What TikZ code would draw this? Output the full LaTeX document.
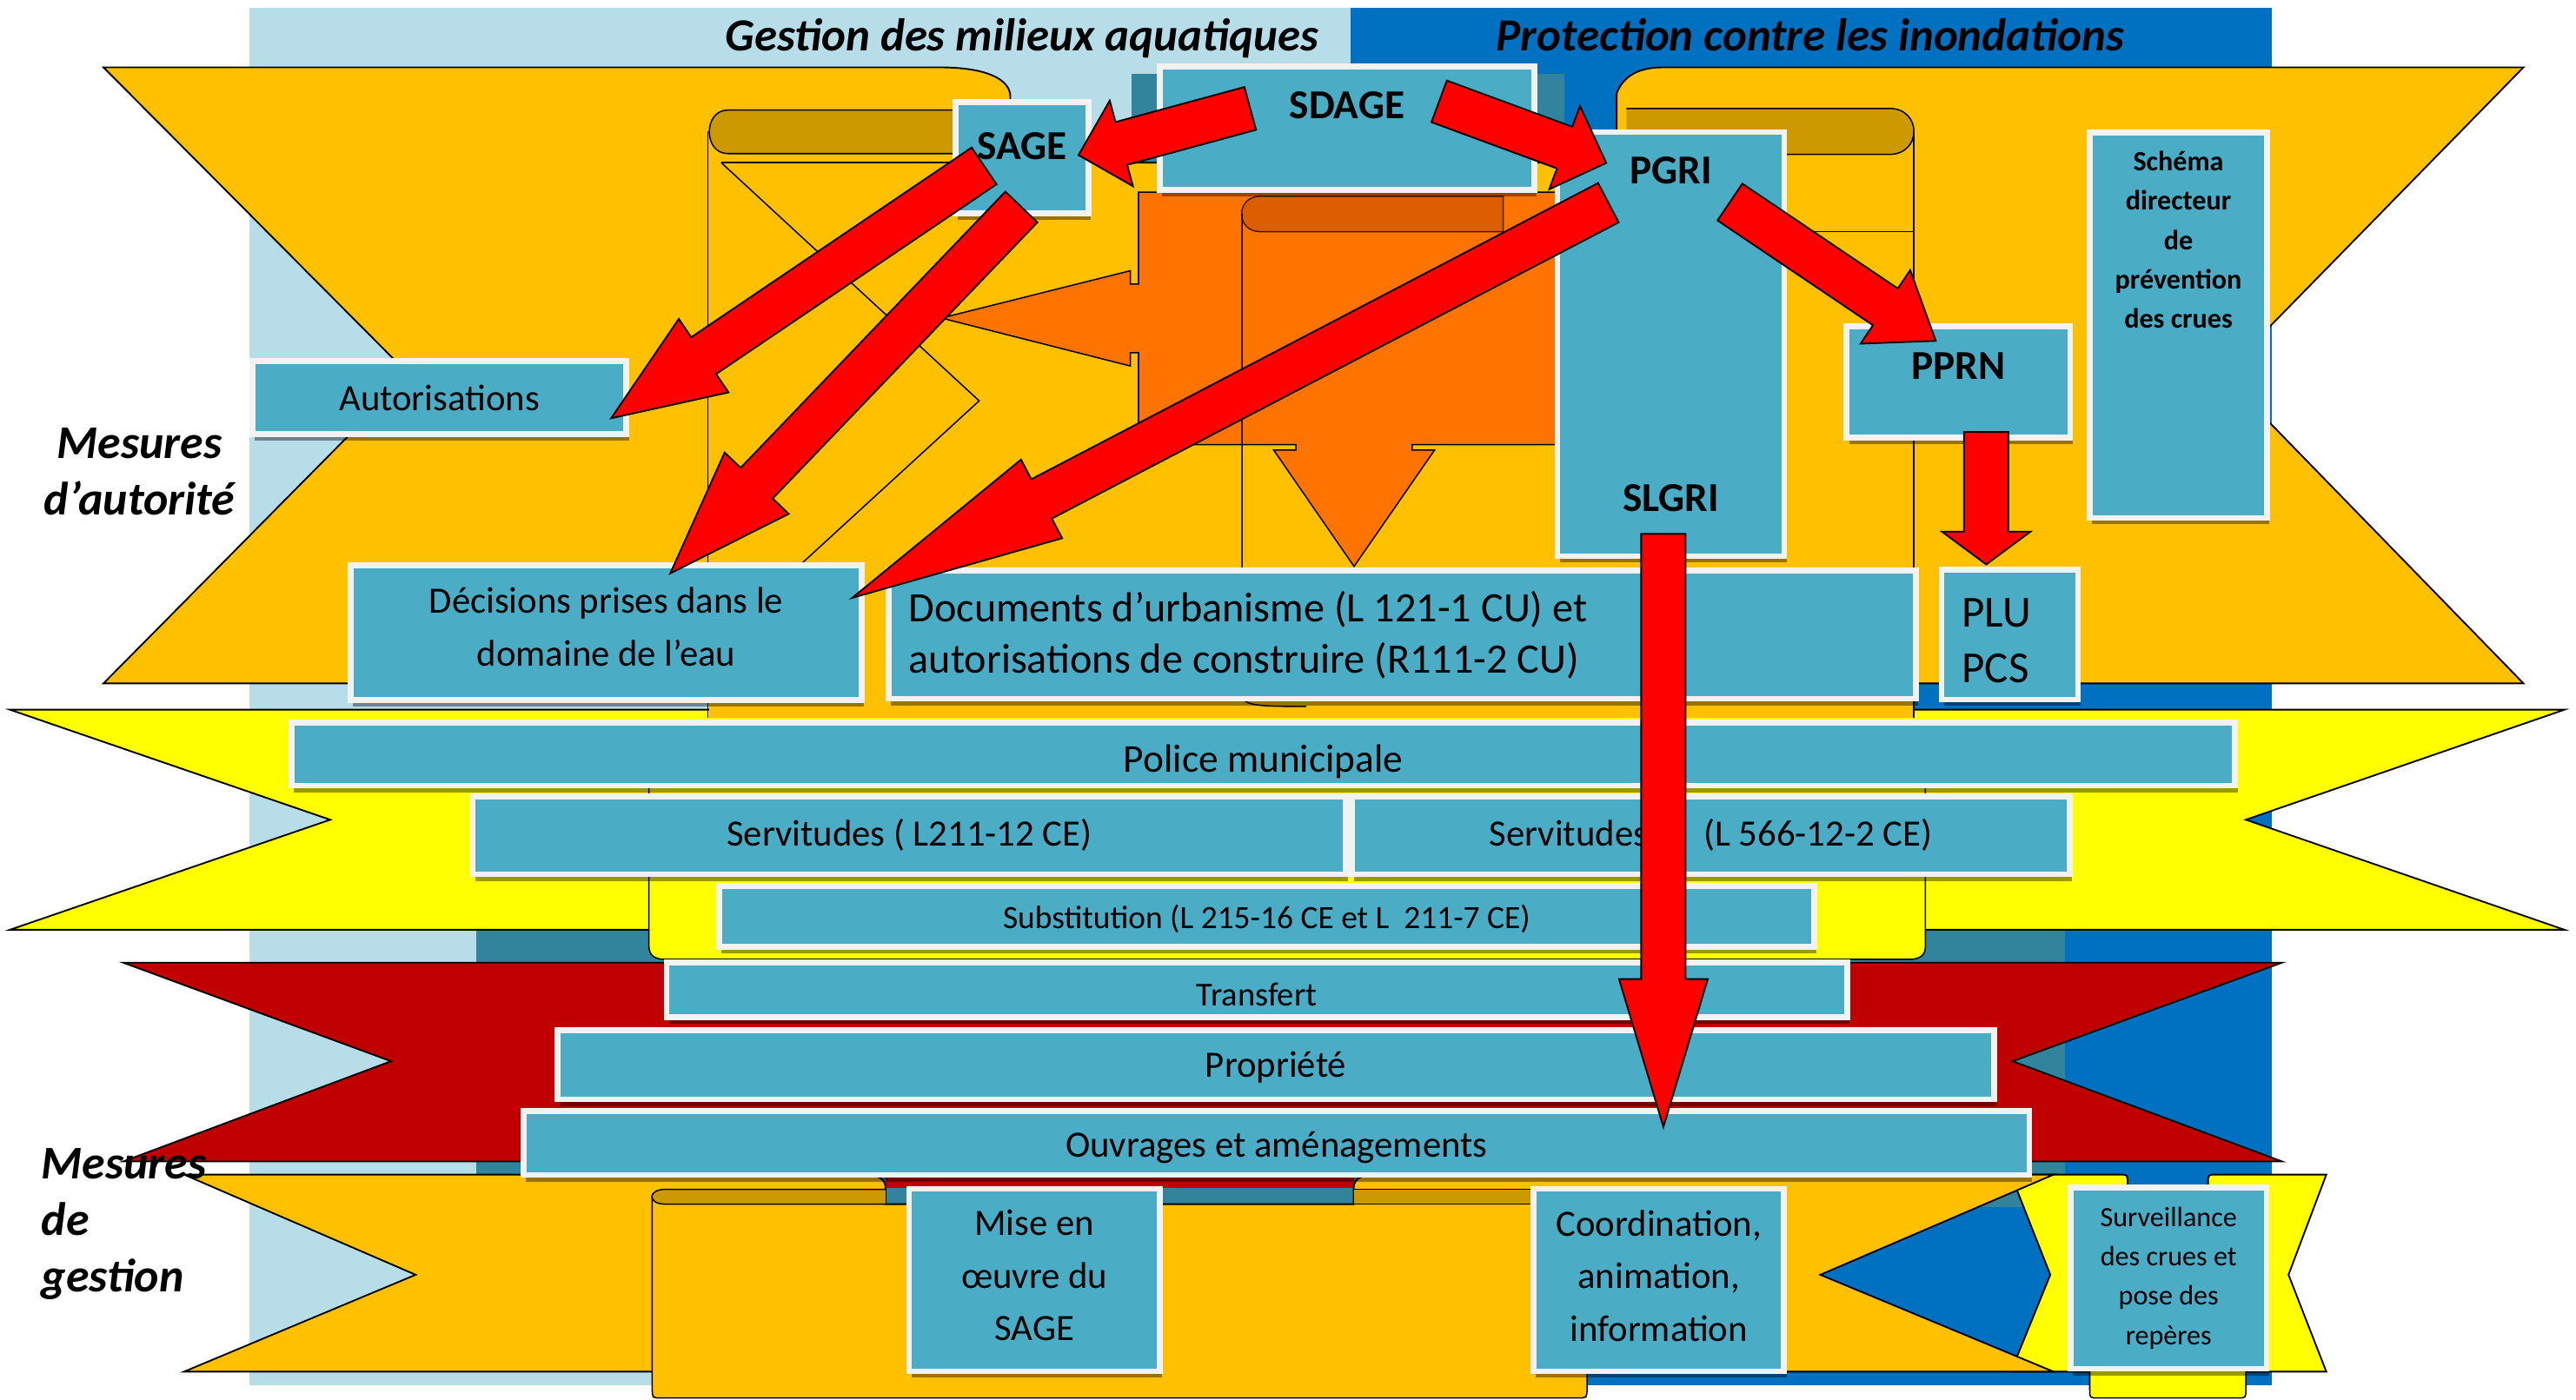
\documentclass[tikz,border=0pt]{standalone}
\usepackage{fontspec}
\setmainfont{Carlito}
\usetikzlibrary{calc,shadows}

\definecolor{bleuclair}{HTML}{B7DDE8}
\definecolor{bleufonce}{HTML}{0070C0}
\definecolor{sarcelle}{HTML}{31849B}
\definecolor{orsoleil}{HTML}{FFC000}
\definecolor{orsombre}{HTML}{CC9900}
\definecolor{jaunevif}{HTML}{FFFF00}
\definecolor{rougesang}{HTML}{C00000}
\definecolor{orangevif}{HTML}{FF7300}
\definecolor{orangesombre}{HTML}{DD5E00}
\definecolor{cyanboite}{HTML}{4BACC6}
\definecolor{bordboite}{HTML}{F2F2F2}

% grosse fleche rouge : depart, pointe, longueur de la tete
\newcommand{\flecherouge}[3]{%
  \filldraw[fleche] ($(#1)!13.5pt!90:(#2)$)
    -- ($(#2)!#3!(#1)!13.5pt!-90:(#1)$) -- ($(#2)!#3!(#1)!27pt!-90:(#1)$)
    -- (#2)
    -- ($(#2)!#3!(#1)!27pt!90:(#1)$) -- ($(#2)!#3!(#1)!13.5pt!90:(#1)$)
    -- ($(#1)!13.5pt!-90:(#2)$) -- cycle;}

\begin{document}
\begin{tikzpicture}[x=1pt,y=-1pt,
    trait/.style={draw=black,line width=0.8pt},
    bande/.style={draw=black,line width=1pt},
    boite/.style={draw=bordboite,line width=3.5pt,fill=cyanboite,inner sep=0pt,
      align=center,font=\fontsize{22.6}{32}\selectfont,
      drop shadow={shadow xshift=1.5pt,shadow yshift=-4pt,opacity=.4,fill=black}},
    ligne/.style={text depth=0pt,text height=#1},
    texte/.style={inner sep=0pt,align=center,font=\fontsize{22.6}{32}\selectfont},
    gras/.style={inner sep=0pt,font=\bfseries\fontsize{25}{30}\selectfont},
    titre/.style={inner sep=0pt,font=\bfseries\itshape\fontsize{28}{30}\selectfont},
    mesure/.style={inner sep=0pt,align=center,font=\bfseries\itshape\fontsize{28.5}{34.5}\selectfont},
    fleche/.style={fill=red,draw=black,line width=1pt}]

  \useasboundingbox (0,0) rectangle (1568,852);

  % fonds
  \fill[bleuclair] (152,5) rectangle (822,843);
  \fill[bleufonce] (822,5) rectangle (1383,843);
  \node[titre,anchor=base] (gestion) at (622,31) {Gestion des milieux aquatiques};
  \node[titre,anchor=base] (protection) at (1102,31) {Protection contre les inondations};
  \fill[sarcelle] (689,45) rectangle (952,117);
  \fill[sarcelle] (290,440) rectangle (1257,735);

  % bandeaux
  \filldraw[fill=jaunevif,bande] (1224,715) -- (1290,715) .. controls (1295,715) .. (1295,720)
    -- (1295,726) -- (1344,726) -- (1344,720) .. controls (1344,715) .. (1349,715)
    -- (1416,715) -- (1393,776) -- (1416,835) -- (1224,835) -- (1248,776) -- cycle;
  \filldraw[fill=orsoleil,bande] (63,41) -- (572,41) .. controls (600,41) and (615,48) .. (615,59)
    -- (615,99) -- (984,99) -- (984,57) .. controls (988,46) and (998,41) .. (1012,41)
    -- (1536,41) -- (1353,228) -- (1536,416) -- (63,416) -- (249,228) -- cycle;
  \filldraw[fill=jaunevif,bande] (6,432) -- (1561,432) -- (1367,499) -- (1561,566)
    -- (6,566) -- (201,499) -- cycle;
  \filldraw[fill=rougesang,bande] (75,586) -- (1389,586) -- (1225,646) -- (1389,707)
    -- (75,707) -- (238,646) -- cycle;
  \fill[rougesang] (539,707) rectangle (824,723);
  \filldraw[fill=orsoleil,bande] (112,715) -- (525,715) .. controls (535,715) and (539,718) .. (539,723)
    -- (539,733) -- (824,733) -- (824,723) .. controls (824,718) and (828,715) .. (838,715)
    -- (1250,715) -- (1108,776) -- (1250,835) -- (112,835) -- (253,776) -- cycle;

  % rouleaux du haut
  \fill[orsoleil] (431.5,405) rectangle (1164.5,437);
  \filldraw[fill=orsombre,trait] (580,67) -- (443,67) .. controls (428,67) and (428,93.5) .. (443,93.5) -- (580,93.5);
  \draw[trait] (431,80) -- (431,437);
  \draw[trait] (439,99) -- (615,99);
  \draw[trait] (439,99) -- (596,244) -- (488,343);
  \filldraw[fill=orsombre,trait] (990,66) -- (1150,66) .. controls (1170,66) and (1170,94) .. (1150,94) -- (990,94);
  \draw[trait] (1165,80) -- (1165,437);
  \draw[trait] (1088,141) -- (1165,141);

  % fleche orange
  \filldraw[fill=orangevif,trait] (693,117) -- (947,117) -- (947,270.6) -- (859.6,270.6)
    -- (859.6,274) -- (873.2,274) -- (824.2,344.8) -- (775.3,274) -- (788.8,274)
    -- (788.8,270.6) -- (693,270.6) -- (693,214.7) -- (688,214.7) -- (688,222.8)
    -- (573,193.6) -- (688,164.8) -- (688,172.9) -- (693,172.9) -- cycle;
  \filldraw[fill=orangesombre,draw=black!70!orangesombre,line width=0.8pt] (915,119.5) -- (767,119.5)
    .. controls (752,119.5) and (752,141) .. (767,141) -- (915,141) -- cycle;
  \draw[trait] (756,130) -- (756,423) .. controls (756,430) and (768,430) .. (795,430);

  % rouleau jaune
  \filldraw[fill=jaunevif,trait] (395,440) -- (395,576) .. controls (395,582) and (399,584) .. (405,584)
    -- (1162,584) .. controls (1168,584) and (1172,582) .. (1172,576) -- (1172,440);

  % rouleaux du bas
  \fill[orsoleil] (397,830) rectangle (966,851);
  \draw[trait] (397,728.5) -- (397,845) .. controls (397,851) .. (403,851) -- (960,851)
    .. controls (966,851) .. (966,845) -- (966,835);
  \filldraw[fill=orsombre,trait] (539,724) -- (405,724) .. controls (394,724) and (394,733) .. (405,733) -- (539,733);
  \filldraw[fill=orsombre,trait] (824,724) rectangle (932,733);
  \filldraw[fill=jaunevif,trait] (1272,830) -- (1272,846) .. controls (1272,851) .. (1277,851)
    -- (1362,851) .. controls (1367,851) .. (1367,846) -- (1367,830);

  % boites
  \node[boite,minimum width=228pt,minimum height=75pt] (sdage) at (820,78) {};
  \node[boite,minimum width=81pt,minimum height=67.5pt] (sage) at (622,96) {};
  \node[boite,minimum width=138pt,minimum height=258pt] (pgri) at (1017,209.5) {};
  \node[boite,minimum width=108pt,minimum height=234.5pt] (schema) at (1326,198) {};
  \node[boite,minimum width=136pt,minimum height=67.5pt] (pprn) at (1192,232.5) {};
  \node[boite,minimum width=227.5pt,minimum height=44.7pt] (autorisations) at (267.5,242) {Autorisations};
  \node[boite,minimum width=311pt,minimum height=82pt] (decisions) at (369,385) {};
  \node[boite,minimum width=625.5pt,minimum height=78pt] (documents) at (853.5,386.3) {};
  \node[boite,minimum width=83pt,minimum height=79pt] (plu) at (1223.3,386.3) {};
  \node[boite,ligne=21.8pt,font=\fontsize{24}{30}\selectfont,minimum width=1183pt,minimum height=38.5pt] (police) at (769,459) {Police municipale};
  \node[boite,minimum width=531.5pt,minimum height=47.5pt] (servitudesA) at (553.5,508.5) {Servitudes ( L211-12 CE)};
  \node[boite,minimum width=437pt,minimum height=47.5pt] (servitudesB) at (1041.3,508.5) {Servitudes\hspace{34pt}(L 566-12-2 CE)};
  \node[boite,ligne=15pt,font=\fontsize{19.8}{24}\selectfont,minimum width=666.5pt,minimum height=37pt] (substitution) at (771,557.8) {Substitution (L 215-16 CE et L\ \ 211-7 CE)};
  \node[boite,ligne=19.6pt,font=\fontsize{20.4}{24}\selectfont,minimum width=718.5pt,minimum height=33.5pt] (transfert) at (765,602.5) {Transfert};
  \node[boite,ligne=15pt,minimum width=874.5pt,minimum height=42pt] (propriete) at (776.6,648.2) {Propriété};
  \node[boite,ligne=17pt,minimum width=916.5pt,minimum height=39pt] (ouvrages) at (777,695.8) {Ouvrages et aménagements};
  \node[boite,minimum width=152.5pt,minimum height=111pt] (miseenoeuvre) at (629.6,779.2) {};
  \node[boite,minimum width=152.5pt,minimum height=111pt] (coordination) at (1009.7,779.2) {};
  \node[boite,font=\fontsize{17}{24}\selectfont,minimum width=119.5pt,minimum height=110.5pt] (surveillance) at (1320,778) {Surveillance\\des crues et\\pose des\\repères};

  % textes
  \node[texte] (t-decisions) at (369,381.5) {Décisions prises dans le\\domaine de l’eau};
  \node[texte] (t-miseenoeuvre) at (629.6,776.5) {Mise en\\œuvre du\\SAGE};
  \node[texte] (t-coordination) at (1009.7,776.5) {Coordination,\\animation,\\information};
  \node[gras] (t-sdage) at (820,64) {SDAGE};
  \node[gras] (t-sage) at (622,89) {SAGE};
  \node[gras] (t-pgri) at (1017,104) {PGRI};
  \node[gras] (t-slgri) at (1017,303) {SLGRI};
  \node[gras] (t-pprn) at (1192,223) {PPRN};
  \node[inner sep=0pt,align=center,font=\bfseries\fontsize{17}{24}\selectfont] (t-schema) at (1326,146) {Schéma\\directeur\\de\\prévention\\des crues};
  \node[inner sep=0pt,anchor=west,align=left,font=\fontsize{25.5}{31}\selectfont] (t-documents) at (553,386.5) {Documents d’urbanisme (L 121-1 CU) et\\autorisations de construire (R111-2 CU)};
  \node[inner sep=0pt,anchor=west,align=left,font=\fontsize{27}{34}\selectfont] (t-plu) at (1194,390) {PLU\\PCS};
  \node[mesure] (m-autorite) at (85,287) {Mesures\\d’autorité};
  \node[mesure,anchor=west,align=left] (m-gestion) at (25,745) {Mesures\\de\\gestion};

  % fleches rouges
  \coordinate (sdage-g) at (761,66);
  \coordinate (sage-d) at (656.5,94.4);
  \coordinate (sdage-d) at (876,61.7);
  \coordinate (pgri-h) at (977.7,99.2);
  \coordinate (sage-b1) at (599,101);
  \coordinate (autor-d) at (372,254.6);
  \coordinate (sage-b2) at (621.7,126);
  \coordinate (decis-h) at (408,349);
  \coordinate (pgri-g) at (979,123.4);
  \coordinate (decis-d) at (518.8,363.9);
  \coordinate (pgri-d) at (1053,123);
  \coordinate (pprn-h) at (1178.3,207.5);
  \coordinate (pprn-b) at (1209,263);
  \coordinate (plu-h) at (1209,343.6);
  \coordinate (slgri-b) at (1012.5,325);
  \coordinate (ouvr-h) at (1012.5,686);

  \flecherouge{sdage-g}{sage-d}{27pt}
  \flecherouge{sdage-d}{pgri-h}{27pt}
  \flecherouge{sage-b1}{autor-d}{68pt}
  \flecherouge{sage-b2}{decis-h}{76pt}
  \flecherouge{pgri-g}{decis-d}{130pt}
  \flecherouge{pgri-d}{pprn-h}{37pt}
  \flecherouge{pprn-b}{plu-h}{20pt}
  \flecherouge{slgri-b}{ouvr-h}{90pt}
\end{tikzpicture}
\end{document}
